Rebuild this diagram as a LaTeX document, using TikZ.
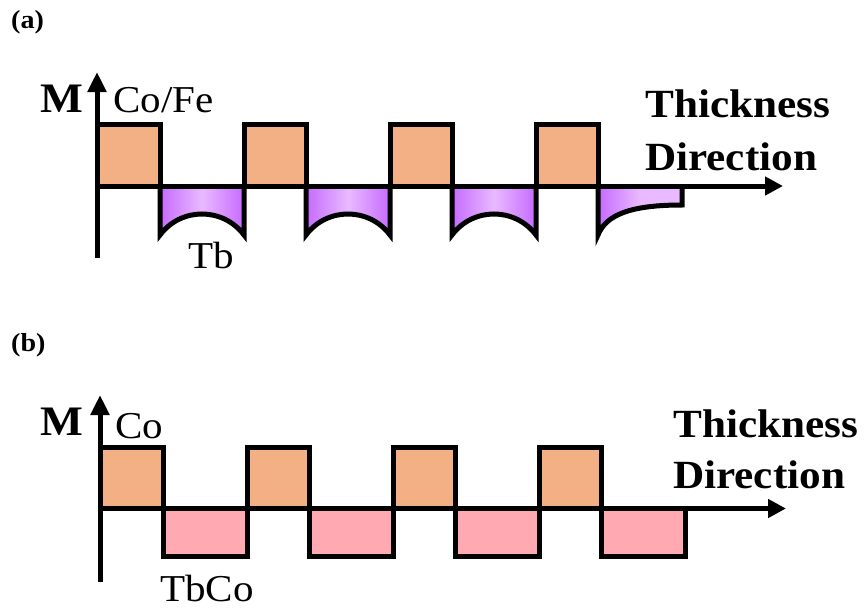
\documentclass[tikz,border=0pt]{standalone}
\usepackage{fontspec}
\setmainfont[FakeStretch=1.08]{Liberation Serif}
\usetikzlibrary{arrows.meta}
\definecolor{cofill}{RGB}{242,176,132}
\definecolor{tbcofill}{RGB}{255,170,178}
\definecolor{pdark}{RGB}{198,106,255}
\definecolor{plight}{RGB}{233,186,255}
\tikzset{
  outl/.style={line width=5pt, line join=miter, miter limit=10},
  axisline/.style={line width=5pt},
  varrow/.style={-{Triangle[length=20pt,width=18pt]}},
  harrow/.style={-{Triangle[length=18pt,width=18pt]}},
  regtext/.style={anchor=base west, inner sep=0pt, font=\fontsize{38}{44}\selectfont},
  boldtext/.style={anchor=base west, inner sep=0pt, font=\bfseries\fontsize{40}{48}\selectfont},
  mtext/.style={anchor=base west, inner sep=0pt, font=\bfseries\fontsize{42}{48}\selectfont},
  labtext/.style={anchor=base west, inner sep=0pt, font=\bfseries\fontsize{26}{30}\selectfont},
  cobox/.style={outl, fill=cofill},
  tbcobox/.style={outl, fill=tbcofill}
}
\begin{document}
\begin{tikzpicture}[x=1pt,y=-1pt]
\useasboundingbox (0,0) rectangle (865,613);
% ---------------- panel (a) ----------------
\node[labtext] (la) at (11,28) {(a)};
% orange Co/Fe boxes
\foreach \xl/\xr in {97/160, 244/306, 390/452, 536/598}{
  \fill[cofill] (\xl,186) rectangle (\xr,124.5);
  \draw[outl] (\xl,186) -- (\xl,124.5) -- (\xr,124.5) -- (\xr,186);
}
% purple Tb regions
\foreach \xl/\xr in {160/244, 306/390, 452/536}{
  \fill[left color=pdark, right color=pdark, middle color=plight]
    (\xl,186) -- (\xl,235) .. controls (\xl+21,207) and (\xr-21,207) .. (\xr,235) -- (\xr,186) -- cycle;
  \draw[outl] (\xl,186) -- (\xl,235) .. controls (\xl+21,207) and (\xr-21,207) .. (\xr,235) -- (\xr,186);
}
\fill[left color=pdark, right color=plight, middle color=plight]
  (598,186) -- (598,235) .. controls (606,215) and (630,205) .. (682,205) -- (682,186) -- cycle;
\draw[outl] (598,186) -- (598,235) .. controls (606,215) and (630,205) .. (682,205) -- (682,186);
% axes
\coordinate (aO) at (97,186);
\coordinate (aB) at (97,258);
\coordinate (aT) at (97,72);
\coordinate (aR) at (783,186);
\draw[axisline, harrow] (aO) -- (aR);
\draw[axisline, varrow] (aB) -- (aT);
% texts
\node[mtext] (ma) at (40,112) {M};
\node[regtext] (cofe) at (113,112) {Co/Fe};
\node[regtext] (tb) at (188,268) {Tb};
\node[boldtext] (tha) at (645,117) {Thickness};
\node[boldtext] (dira) at (645,170) {Direction};
% ---------------- panel (b) ----------------
\node[labtext] (lb) at (11,351) {(b)};
\foreach \xl/\xr in {100/163, 247/309, 393/455, 539/601}{
  \fill[cofill] (\xl,508.5) rectangle (\xr,447);
  \draw[outl] (\xl,508.5) -- (\xl,447) -- (\xr,447) -- (\xr,508.5);
}
\foreach \xl/\xr in {163/247, 309/393, 455/539, 601/685}{
  \draw[tbcobox] (\xl,508.5) rectangle (\xr,556);
}
\coordinate (bO) at (100,508.5);
\coordinate (bB) at (100,582);
\coordinate (bT) at (100,395);
\coordinate (bR) at (786,508.5);
\draw[axisline, harrow] (bO) -- (bR);
\draw[axisline, varrow] (bB) -- (bT);
\node[mtext] (mb) at (40,435) {M};
\node[regtext] (co) at (115,438) {Co};
\node[regtext] (tbco) at (160,601) {TbCo};
\node[boldtext] (thb) at (673,437) {Thickness};
\node[boldtext] (dirb) at (673,488) {Direction};
\end{tikzpicture}
\end{document}
